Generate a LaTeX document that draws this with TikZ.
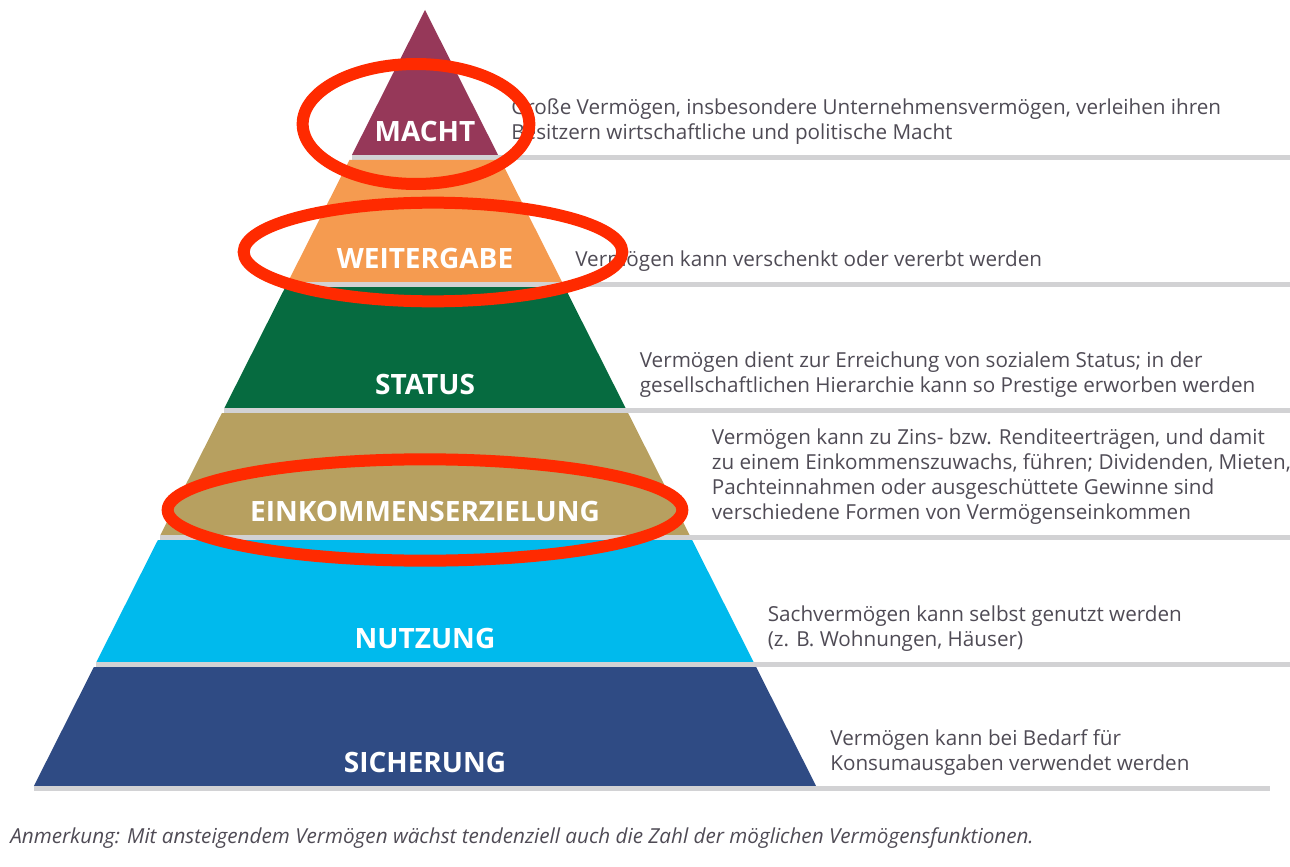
\documentclass[tikz,border=0pt]{standalone}
\usepackage{fontspec}
\setmainfont{Open Sans}
\usepackage{xcolor}
\usepackage{tikz}
\usetikzlibrary{positioning}

\definecolor{machtcol}{HTML}{963859}
\definecolor{weitercol}{HTML}{F59B50}
\definecolor{statuscol}{HTML}{066B40}
\definecolor{einkcol}{HTML}{B7A060}
\definecolor{nutzcol}{HTML}{00BAED}
\definecolor{sichercol}{HTML}{2F4B84}
\definecolor{sepgray}{HTML}{D2D2D4}
\definecolor{desctext}{HTML}{4F4B55}
\definecolor{markred}{HTML}{FF2A00}

\begin{document}
\begin{tikzpicture}[x=0.75pt, y=-0.75pt,
    level/.style={text=white, font=\bfseries\fontsize{21}{25}\selectfont, inner sep=0},
    desc/.style={text=desctext, align=left, inner sep=0, font=\fontsize{15.5}{18.75}\selectfont},
    redmark/.style={draw=markred, line width=9pt}]
    \useasboundingbox (0,0) rectangle (1290,867);

    % pyramid bands, apex at (425,10)
    \foreach \name/\top/\bot/\col/\lab/\xend in {
        macht/10/155/machtcol/MACHT/1290,
        weiter/160/282/weitercol/WEITERGABE/1290,
        status/287/408/statuscol/STATUS/1290,
        eink/413/535/einkcol/EINKOMMENSERZIELUNG/1290,
        nutz/540/662/nutzcol/NUTZUNG/1290,
        sicher/667/786/sichercol/SICHERUNG/1270} {
        \pgfmathsetmacro\wt{0.504*(\top-10)}
        \pgfmathsetmacro\wb{0.504*(\bot-10)}
        \fill[\col] (425-\wt,\top) -- (425+\wt,\top) -- (425+\wb,\bot) -- (425-\wb,\bot) -- cycle;
        \fill[sepgray] (425-\wb,\bot) rectangle (\xend,\bot+5);
        \coordinate (\name br) at (425+\wb,\bot);
        \node[level] (\name) at (425,\bot-24) {\lab};
    }

    \node[desc, above right=7.5pt and 9.75pt of machtbr] (machtdesc) {Große Vermögen, insbesondere Unternehmensvermögen, verleihen ihren\\Besitzern wirtschaftliche und politische Macht};
    \node[desc, above right=7.5pt and 9.75pt of weiterbr] (weiterdesc) {Vermögen kann verschenkt oder vererbt werden};
    \node[desc, above right=7.5pt and 10.5pt of statusbr] (statusdesc) {Vermögen dient zur Erreichung von sozialem Status; in der\\gesellschaftlichen Hierarchie kann so Prestige erworben werden};
    \node[desc, above right=7.5pt and 16.5pt of einkbr] (einkdesc) {Vermögen kann zu Zins- bzw. Renditeerträgen, und damit\\zu einem Einkommenszuwachs, führen; Dividenden, Mieten,\\Pachteinnahmen oder ausgeschüttete Gewinne sind\\verschiedene Formen von Vermögenseinkommen};
    \node[desc, above right=7.5pt and 10.5pt of nutzbr] (nutzdesc) {Sachvermögen kann selbst genutzt werden\\(z. B. Wohnungen, Häuser)};
    \node[desc, above right=7.5pt and 10.5pt of sicherbr] (sicherdesc) {Vermögen kann bei Bedarf für\\Konsumausgaben verwendet werden};

    \node[desc, anchor=west, font=\itshape\fontsize{15.5}{18}\selectfont] (note) at (10,838) {Anmerkung: Mit ansteigendem Vermögen wächst tendenziell auch die Zahl der möglichen Vermögensfunktionen.};

    % red marks
    \draw[redmark] (416,124) ellipse [x radius=85pt, y radius=45pt];
    \draw[redmark] (433,252) ellipse [x radius=142pt, y radius=37pt];
    \draw[redmark] (425,510) ellipse [x radius=193pt, y radius=38pt];
\end{tikzpicture}
\end{document}
